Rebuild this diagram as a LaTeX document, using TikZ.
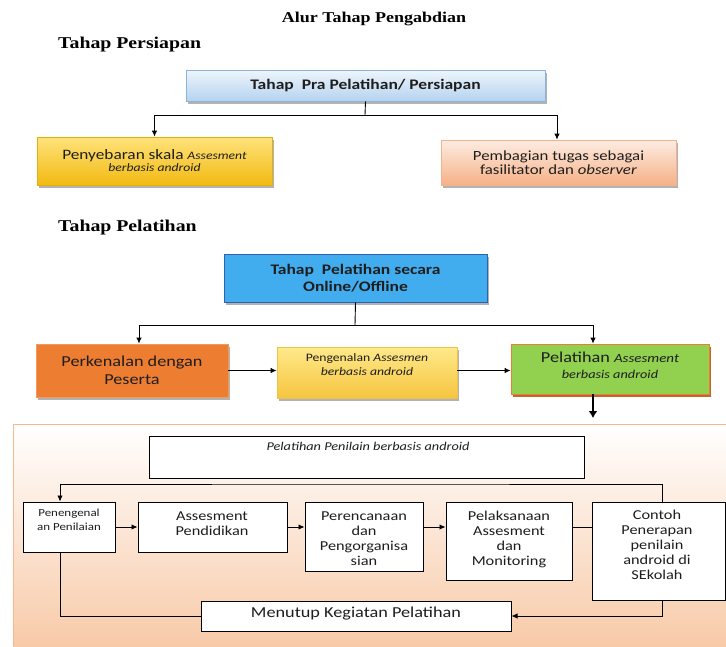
\documentclass[tikz,border=0pt]{standalone}
\usepackage{fontspec}
\setmainfont{Liberation Serif}[FakeStretch=1.2]
\newfontfamily\cfont{Carlito}[FakeStretch=1.2]
\usetikzlibrary{arrows.meta,shadows}
\newcommand{\fs}[2]{\fontsize{#1}{#2}\selectfont}
\definecolor{txt}{HTML}{1E1E1E}
\definecolor{bluT}{HTML}{EEF5FC}
\definecolor{bluBot}{HTML}{B5D3EF}
\definecolor{bluD}{HTML}{8DB3DB}
\definecolor{goldT}{HTML}{FFE27A}
\definecolor{goldB}{HTML}{F2BA12}
\definecolor{goldD}{HTML}{E3AE10}
\definecolor{peachT}{HTML}{FDECE2}
\definecolor{peachB}{HTML}{F5B186}
\definecolor{peachD}{HTML}{F2B48C}
\definecolor{skyF}{HTML}{41ADEF}
\definecolor{skyD}{HTML}{2E62AE}
\definecolor{orgF}{HTML}{ED7D31}
\definecolor{orgD}{HTML}{F29A5E}
\definecolor{ylT}{HTML}{FFE98A}
\definecolor{ylB}{HTML}{F6C540}
\definecolor{ylD}{HTML}{EFC34A}
\definecolor{grnF}{HTML}{92D050}
\definecolor{grnD}{HTML}{ED7D31}
\definecolor{grnS}{HTML}{B8561A}
\definecolor{bgB}{HTML}{F8CAA8}
\definecolor{bgL}{HTML}{F6B98E}
\tikzset{
  sh/.style={drop shadow={shadow xshift=2pt,shadow yshift=-2.5pt,fill=black!55,opacity=0.55}},
  gsh/.style={drop shadow={shadow xshift=2pt,shadow yshift=-2.5pt,fill=grnS,opacity=0.9}},
  ttl/.style={font=\bfseries\fs{16.5}{19}, inner sep=0pt, text=black},
  colbox/.style={line width=0.8pt, align=center, text=txt, inner sep=1pt},
  wbox/.style={draw=black, fill=white, line width=1pt, inner sep=0pt},
  wtxt/.style={align=center, text=txt, inner sep=0pt, font=\cfont\fs{13.6}{15}},
  conn/.style={line width=0.9pt, draw=black},
  arr/.style={conn, -{Latex[length=6pt,width=5.5pt]}},
  bigarr/.style={line width=2.6pt, draw=black, -{Latex[length=7pt,width=9pt]}}
}
\begin{document}
\begin{tikzpicture}[x=1pt,y=-1pt]
\useasboundingbox (0,0) rectangle (726,646);
% titles
\node[ttl, font=\bfseries\fs{15}{18}] (title) at (374,19) {Alur Tahap Pengabdian};
\node[ttl, anchor=west] (sec1) at (58,45) {Tahap Persiapan};
\node[ttl, anchor=west] (sec2) at (58,228) {Tahap Pelatihan};
% preparation stage
\node[colbox, sh, draw=bluD, top color=bluT, bottom color=bluBot,
  minimum width=359pt, minimum height=31pt, font=\cfont\bfseries\fs{14.6}{16}]
  (pra) at (365.5,85.5) {Tahap\ \ Pra Pelatihan/ Persiapan};
\node[colbox, sh, draw=goldD, top color=goldT, bottom color=goldB,
  minimum width=235pt, minimum height=48pt]
  (sebar) at (154.5,161) {\cfont\fs{14.4}{13}Penyebaran skala {\itshape\fs{11.4}{13}Assesment}\\ {\cfont\itshape\fs{11.4}{13}berbasis android}};
\node[colbox, sh, draw=peachD, top color=peachT, bottom color=peachB,
  minimum width=235pt, minimum height=45pt, font=\cfont\fs{14}{14.5}]
  (bagi) at (558.5,162.5) {Pembagian tugas sebagai\\ fasilitator dan \textit{observer}};
\coordinate (j1) at (365,115);
\draw[conn] (pra.south) -- (j1);
\draw[arr] (j1) -| (sebar.north);
\draw[arr] (j1) -| ([xshift=-1.5pt]bagi.north);
% training stage
\node[colbox, sh, draw=skyD, fill=skyF, minimum width=263pt, minimum height=48pt,
  font=\cfont\bfseries\fs{14.6}{17.5}]
  (online) at (355.5,278) {Tahap\ \ Pelatihan secara\\ Online/Offline};
\node[colbox, sh, draw=orgD, fill=orgF, minimum width=192pt, minimum height=53pt,
  font=\cfont\fs{15.2}{18}]
  (kenal) at (132,370.5) {Perkenalan dengan\\ Peserta};
\node[colbox, sh, draw=ylD, top color=ylT, bottom color=ylB,
  minimum width=180pt, minimum height=51pt] (pngl) at (367,372.5) {};
\node[wtxt, font=\cfont\fs{11.4}{14}] (pngl-t) at (367,365)
  {Pengenalan \textit{Assesmen}\\ \textit{berbasis android}};
\node[colbox, gsh, draw=grnD, fill=grnF, minimum width=198pt, minimum height=50pt] (latih) at (610,369) {};
\node[wtxt, font=\cfont\fs{15.2}{16}] (latih-t) at (610,365)
  {Pelatihan {\itshape\fs{12.5}{16}Assesment}\\ {\itshape\fs{11.9}{14}berbasis android}};
\coordinate (j2) at (355,325);
\draw[conn] (online.south) -- (j2);
\draw[arr] (j2) -| ([xshift=7pt]kenal.north);
\draw[arr] (j2) -| ([xshift=-17pt]latih.north);
\draw[arr] (kenal.east) -- (kenal.east -| pngl.west);
\draw[arr] (kenal.east -| pngl.east) -- (kenal.east -| latih.west);
\coordinate (down) at (593,418);
\draw[bigarr] ([xshift=-17pt]latih.south) -- (down);
% lower panel
\fill[top color=white, bottom color=bgB] (13,424) rectangle (726,646);
\draw[draw=bgL, line width=0.8pt] (13,646) -- (13,424) -- (726,424);
\node[wbox, minimum width=435pt, minimum height=42pt] (pnl) at (366.5,457) {};
\node[wtxt, font=\cfont\itshape\fs{11.9}{13}] (pnl-t) at (368,446) {Pelatihan Penilain berbasis android};
\node[wbox, minimum width=92pt, minimum height=50pt] (pen) at (69,527) {};
\node[wtxt, font=\cfont\fs{10.8}{14}] (pen-t) at (69,520) {Penengenal\\ an Penilaian};
\node[wbox, minimum width=149pt, minimum height=50pt] (ases) at (212.5,527) {};
\node[wtxt] (ases-t) at (212,523.5) {Assesment\\ Pendidikan};
\node[wbox, minimum width=118pt, minimum height=69pt] (renc) at (364,536.5) {};
\node[wtxt] (renc-t) at (364,538.5) {Perencanaan\\ dan\\ Pengorganisa\\ sian};
\node[wbox, minimum width=126pt, minimum height=78pt] (laks) at (509,541) {};
\node[wtxt] (laks-t) at (509,539) {Pelaksanaan\\ Assesment\\ dan\\ Monitoring};
\node[wbox, minimum width=133pt, minimum height=98pt] (cnt) at (658.5,551) {};
\node[wtxt] (cnt-t) at (657,544.5) {Contoh\\ Penerapan\\ penilain\\ android di\\ SEkolah};
\node[wbox, minimum width=310pt, minimum height=30pt] (tutup) at (356,616) {};
\node[wtxt, font=\cfont\fs{15.2}{16}] (tutup-t) at (356,614) {Menutup Kegiatan Pelatihan};
\coordinate (loopc) at (360,484);
\draw[arr] ([xshift=3.5pt]cnt.north) |- (loopc) -| ([xshift=-9pt]pen.north);
\draw[arr] (pen.east) -- (ases.west);
\draw[arr] (ases.east) -- (ases.east -| renc.west);
\draw[arr] (ases.east -| renc.east) -- (ases.east -| laks.west);
\draw[conn] (ases.east -| laks.east) -- (ases.east -| cnt.west);
\draw[conn] ([xshift=-9pt]pen.south) |- (tutup.west);
\draw[arr] ([xshift=3.5pt]cnt.south) |- (tutup.east);
\end{tikzpicture}
\end{document}
